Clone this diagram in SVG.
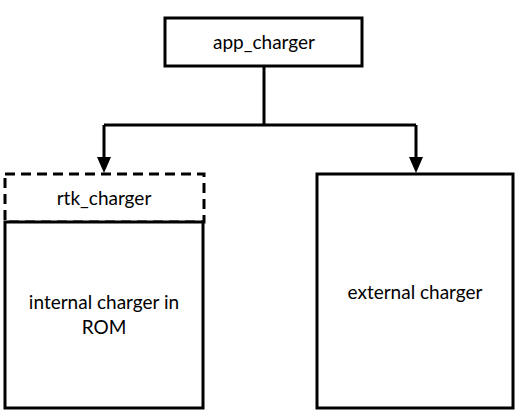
<svg xmlns="http://www.w3.org/2000/svg" width="522" height="417" viewBox="0 0 522 417">
<style>
.box{fill:#fff;stroke:#000;stroke-width:3}
.dash{fill:#fff;stroke:#000;stroke-width:3;stroke-dasharray:10,6}
.t{font-family:Lato,"Open Sans","Liberation Sans",sans-serif;font-size:19px;fill:#000;text-anchor:middle}
.c{fill:none;stroke:#000;stroke-width:3}
</style>
<g id="connectors">
<path class="c" d="M264,67 V125"/>
<path class="c" d="M104,125 H416"/>
<path class="c" d="M104,125 V157"/>
<path class="c" d="M416,125 V157"/>
<path d="M97,157 L111,157 L104,173 Z" fill="#000"/>
<path d="M409,157 L423,157 L416,173 Z" fill="#000"/>
</g>
<g id="app_charger">
<rect class="box" x="165" y="18" width="197" height="48"/>
<text class="t" x="264" y="49">app_charger</text>
</g>
<g id="rtk_charger">
<rect class="dash" x="5" y="174" width="199" height="48"/>
<text class="t" x="104" y="205">rtk_charger</text>
</g>
<g id="internal_charger">
<rect class="box" x="5" y="222" width="198" height="186"/>
<text class="t" x="104" y="309">internal charger in</text>
<text class="t" x="104" y="334">ROM</text>
</g>
<g id="external_charger">
<rect class="box" x="317" y="174" width="196" height="234"/>
<text class="t" x="415" y="299">external charger</text>
</g>
</svg>
